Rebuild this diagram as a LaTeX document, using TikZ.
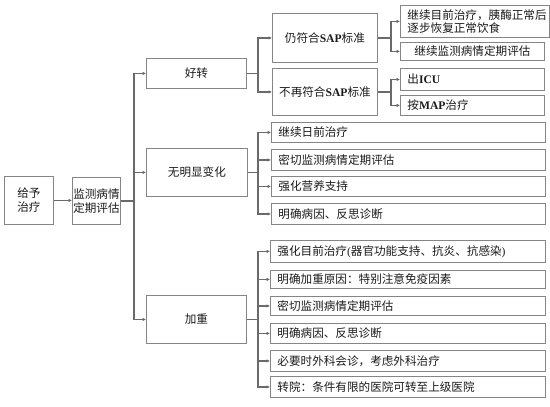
\documentclass[tikz,border=0pt]{standalone}
\usepackage{fontspec}
\setmainfont{Noto Sans CJK SC}
\newfontfamily\lat{Liberation Serif}
\usetikzlibrary{arrows.meta}
\definecolor{linec}{HTML}{6A6A6A}
\definecolor{boxc}{HTML}{858585}
\definecolor{txtc}{HTML}{1A1A1A}
\begin{document}
\begin{tikzpicture}[x=1pt,y=-1pt,
  bx/.style={draw=boxc, line width=0.9pt, inner ysep=0pt, inner xsep=6pt, anchor=north west, text=txtc, font=\fontsize{11.6}{13.3}\selectfont},
  cbox/.style n args={3}{bx, minimum width=#1, minimum height=#2, text width=#3, align=center},
  lbox/.style n args={3}{bx, inner xsep=7pt, minimum width=#1, minimum height=#2, text width=#3, align=left},
  conn/.style={draw=linec, line width=1.4pt},
  arr/.style={conn, -{Latex[length=3.5pt,width=3.5pt]}}]
\useasboundingbox (0,0) rectangle (550,407);
% level 0
\node[cbox={49pt}{48pt}{37pt}, font=\fontsize{11.6}{14}\selectfont] (n1) at (4,176) {给予\\治疗};
\node[cbox={48pt}{47pt}{48pt}, inner xsep=0pt, font=\fontsize{11.6}{14}\selectfont] (n2) at (72,177) {监测病情\\定期评估};
% level 1
\node[cbox={100pt}{30pt}{88pt}] (h1) at (146,58) {好转};
\node[cbox={101pt}{48pt}{89pt}] (h2) at (146,148) {无明显变化};
\node[cbox={100pt}{48pt}{88pt}] (h3) at (146,295) {加重};
% level 2
\node[cbox={105pt}{49pt}{93pt}] (s1) at (272,13) {仍符合{\lat\bfseries SAP}标准};
\node[cbox={105pt}{47pt}{93pt}] (s2) at (272,68) {不再符合{\lat\bfseries SAP}标准};
% leaves of s1, s2
\node[lbox={149pt}{32pt}{141pt}, inner xsep=4pt] (a1) at (400,5) {\hspace*{3pt}继续目前治疗，胰酶正常后\\\hspace*{3pt}逐步恢复正常饮食};
\node[cbox={144pt}{18pt}{132pt}] (a2) at (400,42) {继续监测病情定期评估};
\node[lbox={144pt}{22pt}{130pt}] (a3) at (400,68) {出{\lat\bfseries ICU}};
\node[lbox={144pt}{20pt}{130pt}] (a4) at (400,95) {按{\lat\bfseries MAP}治疗};
% leaves of h2
\node[lbox={274pt}{20pt}{260pt}] (b1) at (271,122) {继续日前治疗};
\node[lbox={274pt}{21pt}{260pt}] (b2) at (271,149) {密切监测病情定期评估};
\node[lbox={274pt}{20pt}{260pt}] (b3) at (271,176) {强化营养支持};
\node[lbox={274pt}{21pt}{260pt}] (b4) at (271,203) {明确病因、反思诊断};
% leaves of h3
\node[lbox={275pt}{22pt}{261pt}] (c1) at (270,240) {强化目前治疗{\lat (}器官功能支持、抗炎、抗感染{\lat )}};
\node[lbox={275pt}{18pt}{261pt}] (c2) at (270,270) {明确加重原因：特别注意免疫因素};
\node[lbox={275pt}{19pt}{261pt}] (c3) at (270,296) {密切监测病情定期评估};
\node[lbox={275pt}{20pt}{261pt}] (c4) at (270,323) {明确病因、反思诊断};
\node[lbox={275pt}{21pt}{261pt}] (c5) at (270,350) {必要时外科会诊，考虑外科治疗};
\node[lbox={275pt}{21pt}{261pt}] (c6) at (270,376) {转院：条件有限的医院可转至上级医院};
% connectors
\draw[arr] (n1.east) -- (n1.east -| n2.west);
\coordinate (T) at (134,201);
\draw[conn] (n2.east) -- (n2.east -| T);
\draw[arr] (T) |- (h1.west);
\draw[arr] (T) |- (h2.west);
\draw[arr] (T) |- (h3.west);
\coordinate (U) at (258,0);
\coordinate (V) at (391,0);
% h1
\draw[conn] (h1.east) -- (h1.east -| U);
\draw[arr] (h1.east -| U) |- (s1.west);
\draw[arr] (h1.east -| U) |- (s2.west);
\draw[conn] (s1.east) -- (s1.east -| V);
\draw[arr] (s1.east -| V) |- (a1.west);
\draw[arr] (s1.east -| V) |- (a2.west);
\draw[conn] (s2.east) -- (s2.east -| V);
\draw[arr] (s2.east -| V) |- (a3.west);
\draw[arr] (s2.east -| V) |- (a4.west);
% h2
\draw[conn] (h2.east) -- (h2.east -| U);
\foreach \n in {b1,b2,b3,b4} \draw[arr] (h2.east -| U) |- (\n.west);
% h3
\draw[conn] (h3.east) -- (h3.east -| U);
\foreach \n in {c1,c2,c3,c4,c5,c6} \draw[arr] (h3.east -| U) |- (\n.west);
\end{tikzpicture}
\end{document}
